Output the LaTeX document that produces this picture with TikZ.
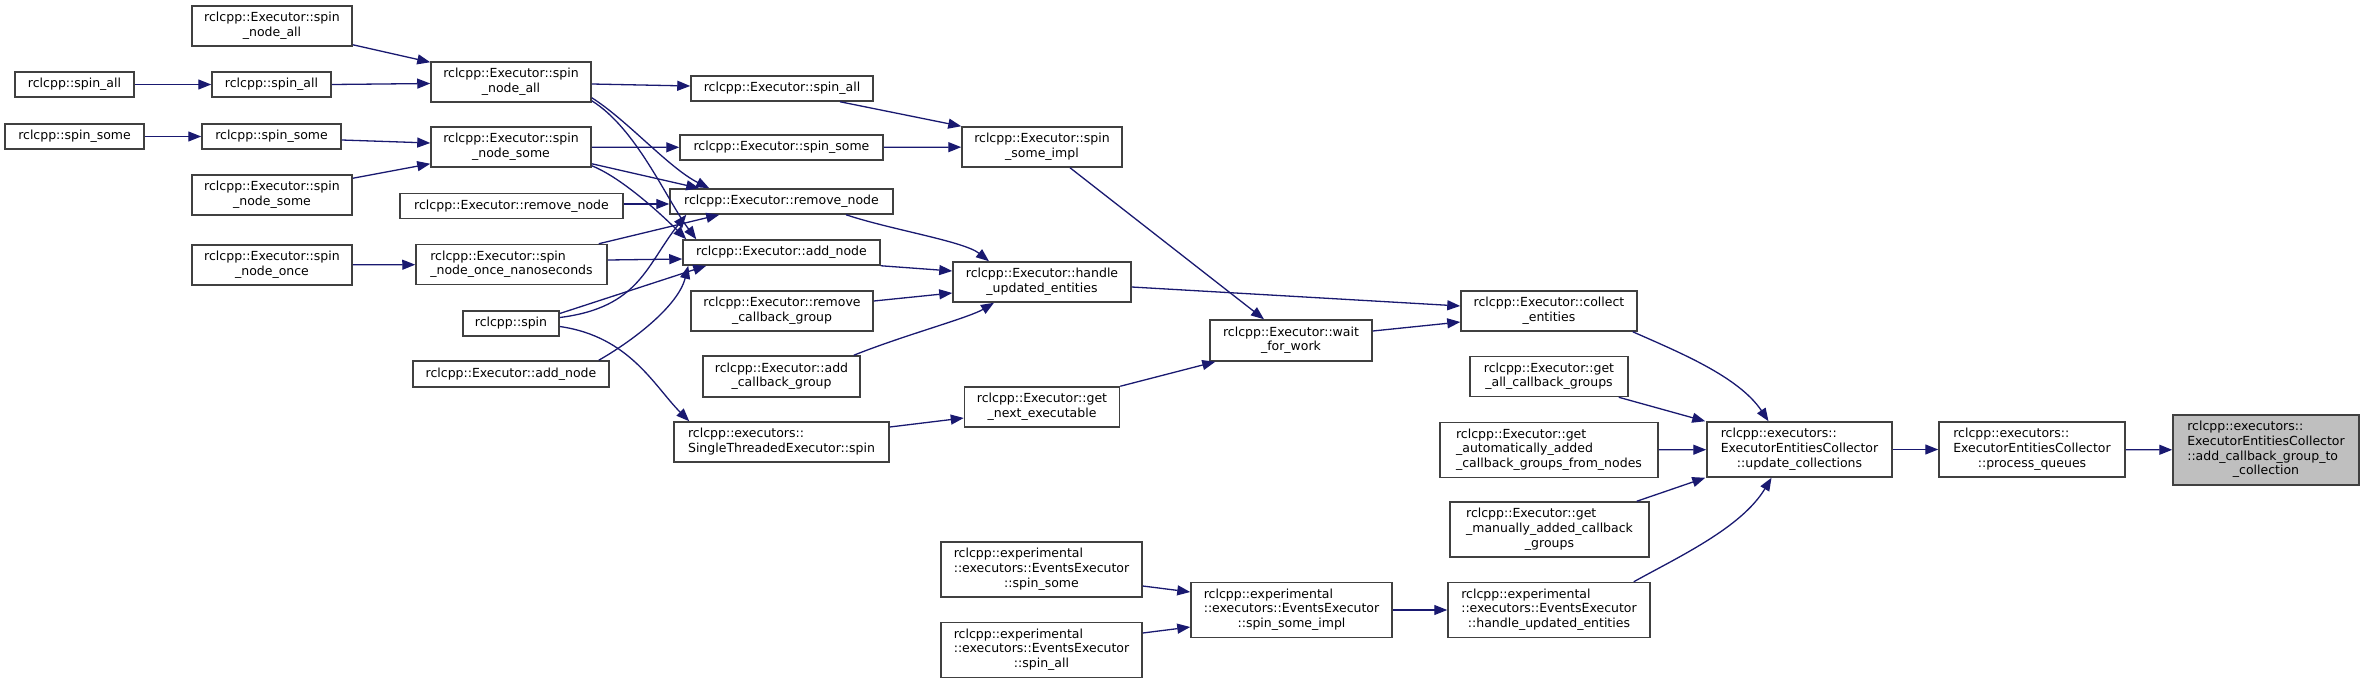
\documentclass[tikz,border=0pt]{standalone}
\usepackage{fontspec}
\setmainfont{DejaVu Sans}
\usetikzlibrary{arrows.meta,calc}
\definecolor{edgec}{HTML}{191970}
\definecolor{boxc}{HTML}{404040}
\definecolor{tgtfill}{HTML}{BFBFBF}
\newcommand{\ml}[2]{\begin{tabular}{@{}l@{}}#1\multicolumn{1}{@{}c@{}}{#2}\end{tabular}}
\begin{document}
\begin{tikzpicture}[x=1pt,y=1pt,
  box/.style={draw=boxc, line width=1.5pt, fill=white, inner sep=0pt, font=\fontsize{12.5}{14.7}\selectfont, align=center},
  edge/.style={draw=edgec, line width=1.3pt, -{Triangle[length=13pt,width=10pt]}},
]
\useasboundingbox (0,0) rectangle (2364,-683);
% nodes
\node[box, fill=tgtfill, minimum width=186pt, minimum height=70pt] (tgt) at (2266,-450) {\ml{rclcpp::executors::\\ExecutorEntitiesCollector\\::add\_callback\_group\_to\\}{\_collection}};
\node[box, minimum width=186pt, minimum height=55pt] (pq) at (2032,-449.5) {\ml{rclcpp::executors::\\ExecutorEntitiesCollector\\}{::process\_queues}};
\node[box, minimum width=185pt, minimum height=55pt] (uc) at (1799.5,-449.5) {\ml{rclcpp::executors::\\ExecutorEntitiesCollector\\}{::update\_collections}};
\node[box, minimum width=176pt, minimum height=40pt] (ce) at (1549,-311) {\ml{rclcpp::Executor::collect\\}{\_entities}};
\node[box, minimum width=158pt, minimum height=40pt] (gacg) at (1549,-376.5) {\ml{rclcpp::Executor::get\\}{\_all\_callback\_groups}};
\node[box, minimum width=218pt, minimum height=55pt] (gaa) at (1549,-450) {\ml{rclcpp::Executor::get\\\_automatically\_added\\}{\_callback\_groups\_from\_nodes}};
\node[box, minimum width=199pt, minimum height=55pt] (gma) at (1549.5,-529.5) {\ml{rclcpp::Executor::get\\\_manually\_added\_callback\\}{\_groups}};
\node[box, minimum width=202pt, minimum height=55pt] (eehu) at (1549,-610) {\ml{rclcpp::experimental\\::executors::EventsExecutor\\}{::handle\_updated\_entities}};
\node[box, minimum width=162pt, minimum height=41pt] (wfw) at (1291,-340.5) {\ml{rclcpp::Executor::wait\\}{\_for\_work}};
\node[box, minimum width=201pt, minimum height=55pt] (eessi) at (1291.5,-610) {\ml{rclcpp::experimental\\::executors::EventsExecutor\\}{::spin\_some\_impl}};
\node[box, minimum width=160pt, minimum height=40pt] (ssi) at (1042,-147) {\ml{rclcpp::Executor::spin\\}{\_some\_impl}};
\node[box, minimum width=178pt, minimum height=40pt] (hue) at (1042,-282) {\ml{rclcpp::Executor::handle\\}{\_updated\_entities}};
\node[box, minimum width=155pt, minimum height=40pt] (gne) at (1042,-407) {\ml{rclcpp::Executor::get\\}{\_next\_executable}};
\node[box, minimum width=201pt, minimum height=55pt] (eess) at (1041.5,-569.5) {\ml{rclcpp::experimental\\::executors::EventsExecutor\\}{::spin\_some}};
\node[box, minimum width=201pt, minimum height=55pt] (eesa) at (1041.5,-650) {\ml{rclcpp::experimental\\::executors::EventsExecutor\\}{::spin\_all}};
\node[box, minimum width=182pt, minimum height=25pt] (esa) at (782,-88.5) {rclcpp::Executor::spin\_all};
\node[box, minimum width=203pt, minimum height=25pt] (ess) at (781.5,-147.5) {rclcpp::Executor::spin\_some};
\node[box, minimum width=223pt, minimum height=25pt] (rn) at (781.5,-201.5) {rclcpp::Executor::remove\_node};
\node[box, minimum width=197pt, minimum height=25pt] (an) at (781.5,-252.5) {rclcpp::Executor::add\_node};
\node[box, minimum width=182pt, minimum height=40pt] (rcg) at (782,-311) {\ml{rclcpp::Executor::remove\\}{\_callback\_group}};
\node[box, minimum width=157pt, minimum height=41pt] (acg) at (781.5,-376.5) {\ml{rclcpp::Executor::add\\}{\_callback\_group}};
\node[box, minimum width=215pt, minimum height=40pt] (ste) at (781.5,-442) {\ml{rclcpp::executors::\\}{SingleThreadedExecutor::spin}};
\node[box, minimum width=160pt, minimum height=40pt] (snall) at (511,-82) {\ml{rclcpp::Executor::spin\\}{\_node\_all}};
\node[box, minimum width=160pt, minimum height=40pt] (snsome) at (511,-147) {\ml{rclcpp::Executor::spin\\}{\_node\_some}};
\node[box, minimum width=223pt, minimum height=25pt] (rnl) at (511.5,-206) {rclcpp::Executor::remove\_node};
\node[box, minimum width=191pt, minimum height=40pt] (snon) at (511.5,-264.5) {\ml{rclcpp::Executor::spin\\}{\_node\_once\_nanoseconds}};
\node[box, minimum width=96pt, minimum height=25pt] (spin) at (511,-323.5) {rclcpp::spin};
\node[box, minimum width=196pt, minimum height=26pt] (anl) at (511,-374) {rclcpp::Executor::add\_node};
\node[box, minimum width=160pt, minimum height=40pt] (snall0) at (272,-26) {\ml{rclcpp::Executor::spin\\}{\_node\_all}};
\node[box, minimum width=119pt, minimum height=25pt] (sa2) at (271.5,-84.5) {rclcpp::spin\_all};
\node[box, minimum width=139pt, minimum height=25pt] (ss2) at (271.5,-136.5) {rclcpp::spin\_some};
\node[box, minimum width=160pt, minimum height=40pt] (snsome0) at (272,-195) {\ml{rclcpp::Executor::spin\\}{\_node\_some}};
\node[box, minimum width=160pt, minimum height=40pt] (snonce) at (272,-265) {\ml{rclcpp::Executor::spin\\}{\_node\_once}};
\node[box, minimum width=119pt, minimum height=25pt] (sa1) at (74.5,-84.5) {rclcpp::spin\_all};
\node[box, minimum width=139pt, minimum height=25pt] (ss1) at (74.5,-136.5) {rclcpp::spin\_some};
% edges (right part)
\draw[edge] (pq) -- (tgt);
\draw[edge] (uc) -- (pq);
\draw[edge] ($(ce.south east)+(-5,0)$) .. controls +(45,-20) and +(-30,45) .. ($(uc.north)+(-31,0)$);
\draw[edge] ($(gacg.south east)+(-10,0)$) -- ($(uc.north west)+(-1,0)$);
\draw[edge] (gaa) -- (uc);
\draw[edge] ($(gma.north east)+(-13,0)$) -- ($(uc.south west)+(-1,0)$);
\draw[edge] ($(eehu.north east)+(-17,0)$) .. controls +(45,25) and +(-30,-50) .. ($(uc.south)+(-28,0)$);
\draw[edge] ($(hue.east)+(0,-5)$) -- ($(ce.west)+(0,5)$);
\draw[edge] ($(wfw.east)+(0,9.5)$) -- ($(ce.west)+(0,-11)$);
\draw[edge] ($(ssi.south)+(28,0)$) -- ($(wfw.north)+(-27,0)$);
\draw[edge] (gne.north east) -- ($(wfw.south west)+(6,0)$);
\draw[edge] (eessi) -- (eehu);
\draw[edge] ($(eess.east)+(0,-16.5)$) -- ($(eessi.west)+(0,18)$);
\draw[edge] ($(eesa.east)+(0,17)$) -- ($(eessi.west)+(0,-17)$);
% into handle_updated_entities / spin_some_impl / get_next_executable
\draw[edge] ($(rn.south)+(64.5,0)$) .. controls +(45,-15) and +(-25,20) .. ($(hue.north)+(-53,0)$);
\draw[edge] (an.south east) -- ($(hue.west)+(0,11)$);
\draw[edge] ($(rcg.east)+(0,10)$) -- ($(hue.west)+(0,-11)$);
\draw[edge] ($(acg.north east)+(-7,0)$) .. controls +(50,20) and +(-25,-15) .. ($(hue.south)+(-48,0)$);
\draw[edge] ($(esa.south)+(58,0)$) -- (ssi.north west);
\draw[edge] (ess) -- (ssi);
\draw[edge] ($(ste.east)+(0,15)$) -- ($(gne.west)+(0,-11)$);
% tangle
\draw[edge] ($(snall.east)+(0,-2)$) -- ($(esa.west)+(0,2.5)$);
\draw[edge] ($(snall.south east)+(0,5)$) .. controls +(35,-22) and +(-40,20) .. ($(rn.north west)+(40,0)$);
\draw[edge] ($(snall.south east)+(0,2)$) .. controls +(45,-28) and +(-30,40) .. ($(an.north west)+(14,0)$);
\draw[edge] (snsome) -- (ess);
\draw[edge] ($(snsome.south east)+(0,4)$) -- ($(rn.north west)+(30,0)$);
\draw[edge] ($(snsome.south east)+(0,2)$) .. controls +(30,-12) and +(-25,25) .. ($(an.north west)+(4,0)$);
\draw[edge] ($(rnl.east)+(0,2)$) -- ($(rn.west)+(0,-2.5)$);
\draw[edge] ($(snon.north east)+(-9,0)$) -- ($(rn.south west)+(50,0)$);
\draw[edge] ($(snon.east)+(0,4.5)$) -- ($(an.west)+(0,-6.5)$);
\draw[edge] ($(spin.east)+(0,6)$) .. controls +(80,10) and +(-40,-50) .. ($(rn.south west)+(17,0)$);
\draw[edge] ($(spin.east)+(0,10)$) -- ($(an.south west)+(24,0)$);
\draw[edge] ($(spin.east)+(0,-3)$) .. controls +(70,-10) and +(-35,35) .. ($(ste.north west)+(16,0)$);
\draw[edge] ($(anl.north east)+(-11,0)$) .. controls +(35,20) and +(-10,-40) .. ($(an.south west)+(6,0)$);
% left part
\draw[edge] ($(snall0.south east)+(0,2)$) -- ($(snall.north west)+(0,-1)$);
\draw[edge] (sa2.east) -- ($(snall.west)+(0,-1.5)$);
\draw[edge] (sa1) -- (sa2);
\draw[edge] (ss1) -- (ss2);
\draw[edge] ($(ss2.east)+(0,-3.5)$) -- ($(snsome.west)+(0,4)$);
\draw[edge] ($(snsome0.north east)+(0,-4)$) -- ($(snsome.south west)+(0,4)$);
\draw[edge] (snonce) -- (snon);
\end{tikzpicture}
\end{document}
